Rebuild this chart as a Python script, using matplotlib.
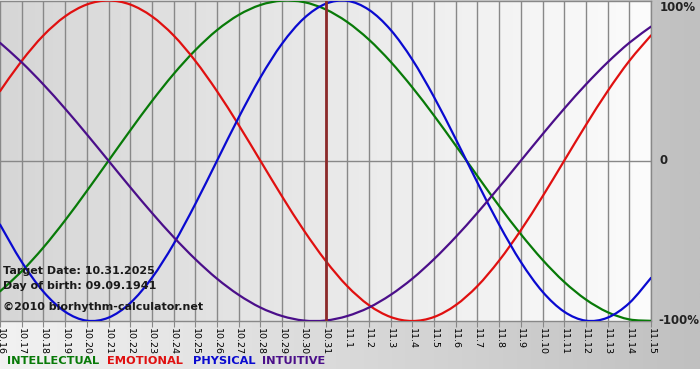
import numpy as np
import matplotlib
matplotlib.use("Agg")
import matplotlib.pyplot as plt
from matplotlib.colors import LinearSegmentedColormap
from matplotlib.path import Path
from matplotlib.patches import PathPatch

dates = ["10.16", "10.17", "10.18", "10.19", "10.20", "10.21", "10.22", "10.23",
         "10.24", "10.25", "10.26", "10.27", "10.28", "10.29", "10.30", "10.31",
         "11.1", "11.2", "11.3", "11.4", "11.5", "11.6", "11.7", "11.8", "11.9",
         "11.10", "11.11", "11.12", "11.13", "11.14", "11.15"]

physical = [-0.398, -0.631, -0.817, -0.942, -0.998, -0.979, -0.888, -0.731,
            -0.520, -0.270, 0.000, 0.270, 0.520, 0.731, 0.888, 0.979, 0.998,
            0.942, 0.817, 0.631, 0.398, 0.136, -0.136, -0.398, -0.631, -0.817,
            -0.942, -0.998, -0.979, -0.888, -0.731]
emotional = [0.434, 0.623, 0.782, 0.901, 0.975, 1.000, 0.975, 0.901, 0.782,
             0.623, 0.434, 0.223, 0.000, -0.223, -0.434, -0.623, -0.782, -0.901,
             -0.975, -1.000, -0.975, -0.901, -0.782, -0.623, -0.434, -0.223,
             0.000, 0.223, 0.434, 0.623, 0.782]
intellectual = [-0.815, -0.690, -0.541, -0.372, -0.189, 0.000, 0.189, 0.372,
                0.541, 0.690, 0.815, 0.910, 0.972, 0.999, 0.990, 0.945, 0.866,
                0.756, 0.618, 0.458, 0.282, 0.095, -0.095, -0.282, -0.458,
                -0.618, -0.756, -0.866, -0.945, -0.990, -0.999]
intuitive = [0.736, 0.614, 0.476, 0.325, 0.165, 0.000, -0.165, -0.325, -0.476,
             -0.614, -0.736, -0.837, -0.916, -0.969, -0.997, -0.997, -0.969,
             -0.916, -0.837, -0.736, -0.614, -0.476, -0.325, -0.165, 0.000,
             0.165, 0.325, 0.476, 0.614, 0.736, 0.837]

target_index = 15
y_labels = ["100%", "0", "-100%"]
info_lines = ["Target Date: 10.31.2025", "Day of birth: 09.09.1941",
              "\u00a92010 biorhythm-calculator.net"]
legend_names = ["INTELLECTUAL", "EMOTIONAL", "PHYSICAL", "INTUITIVE"]
legend_colors = ["#087a08", "#e01010", "#0a0ad0", "#4b0f8a"]

W, H = 700, 380
fig = plt.figure(figsize=(W / 100, H / 100), dpi=100)
fig.patch.set_facecolor("white")

def px(x0, y0, x1, y1):
    return [x0 / W, 1 - y1 / H, (x1 - x0) / W, (y1 - y0) / H]

# outer gradient background
bg = fig.add_axes(px(0, 0, 700, 369), zorder=0)
outer = LinearSegmentedColormap.from_list("o", ["#f2f2f2", "#c0c0c0"])
bg.imshow(np.linspace(0, 1, 256)[None, :], aspect="auto", cmap=outer,
          extent=[0, 1, 0, 1])
bg.set_axis_off()

ax = fig.add_axes(px(0, 0.5, 651, 321), zorder=1)
n = len(dates)
x = np.arange(n)
inner = LinearSegmentedColormap.from_list("i", ["#d6d6d6", "#fcfcfc"])
ax.imshow(np.linspace(0, 1, 256)[None, :], aspect="auto", cmap=inner,
          extent=[0, n - 1, -1, 1], zorder=0)
ax.set_xlim(0, n - 1)
ax.set_ylim(-1, 1)

for xi in x:
    ax.axvline(xi, color="#888888", lw=1.0, zorder=1)
ax.axhline(0, color="#888888", lw=1.0, zorder=1)


def smooth_path(xs, ys):
    """Catmull-Rom curve through the data points, as cubic Bezier segments."""
    xs = np.asarray(xs, float)
    ys = np.asarray(ys, float)
    pts = np.column_stack([xs, ys])
    verts = [pts[0]]
    codes = [Path.MOVETO]
    m = len(pts)
    for i in range(m - 1):
        p0 = pts[i - 1] if i > 0 else pts[i]
        p1 = pts[i]
        p2 = pts[i + 1]
        p3 = pts[i + 2] if i + 2 < m else pts[i + 1]
        c1 = p1 + (p2 - p0) / 6.0
        c2 = p2 - (p3 - p1) / 6.0
        verts += [c1, c2, p2]
        codes += [Path.CURVE4] * 3
    return Path(verts, codes)


lw = 1.6
for series, col in zip([intellectual, emotional, physical, intuitive], legend_colors):
    patch = PathPatch(smooth_path(x, series), facecolor="none", edgecolor=col,
                      lw=lw, zorder=3, capstyle="round", joinstyle="round")
    ax.add_patch(patch)
ax.axvline(target_index, color="#8c2a2a", lw=2.0, zorder=4)

for s in ax.spines.values():
    s.set_color("#888888")
    s.set_linewidth(1.0)
ax.spines["left"].set_visible(False)

ax.set_xticks(x)
ax.set_xticklabels(dates, rotation=270, fontsize=6.8, color="#000000")
ax.tick_params(axis="x", length=4, color="#888888", pad=1)
ax.set_yticks([])

# right labels
ytrans = ax.get_yaxis_transform()
ax.text(1.0 + 9 / 651, 1 - 7.5 / 160.5, y_labels[0], transform=ytrans, ha="left",
        va="center", fontsize=8.5, fontweight="bold", color="#222222")
ax.text(1.0 + 9 / 651, 0, y_labels[1], transform=ytrans, ha="left",
        va="center", fontsize=8.5, fontweight="bold", color="#222222")
ax.text(1.0 + 7 / 651, -1, y_labels[2], transform=ytrans, ha="left",
        va="center", fontsize=8.5, fontweight="bold", color="#222222")

# info text
for txt, yy in zip(info_lines, [271, 286, 307]):
    fig.text(3 / W, 1 - yy / H, txt, ha="left", va="center", fontsize=8,
             fontweight="bold", color="#1a1a1a", zorder=5)

# legend
for name, col, xx in zip(legend_names, legend_colors, [7, 107, 193, 262]):
    fig.text(xx / W, 1 - 361 / H, name, ha="left", va="center", fontsize=8.2,
             fontweight="bold", color=col)

fig.savefig("out.png", dpi=100, facecolor="white")
